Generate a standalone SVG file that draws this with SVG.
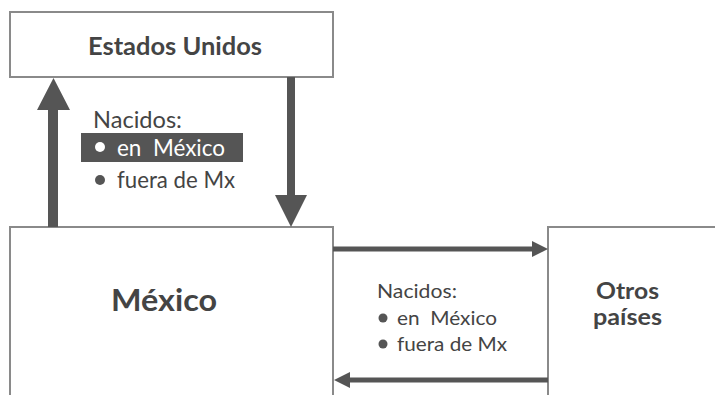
<svg xmlns="http://www.w3.org/2000/svg" width="715" height="395" viewBox="0 0 715 395">
<style>
.box{fill:#fff;stroke:#8a8a8a;stroke-width:2}
.t{font-family:Lato,"Liberation Sans",sans-serif;fill:#444}
.b{font-weight:bold}
.w{fill:#fff}
.arr{fill:#555}
</style>
<rect width="715" height="395" fill="#fff"/>
<g id="estados-unidos">
<rect class="box" x="10" y="12" width="323" height="65"/>
<text class="t b" x="88" y="55" font-size="24" textLength="174" lengthAdjust="spacingAndGlyphs">Estados Unidos</text>
</g>
<g id="mexico">
<path class="box" d="M10,395 V227 H333 V395"/>
<text class="t b" x="111" y="311" font-size="31" textLength="106" lengthAdjust="spacingAndGlyphs">México</text>
</g>
<g id="otros-paises">
<path class="box" d="M548,395 V227 H716"/>
<text class="t b" x="596" y="299" font-size="23" textLength="63" lengthAdjust="spacingAndGlyphs">Otros</text>
<text class="t b" x="593" y="325" font-size="23" textLength="69" lengthAdjust="spacingAndGlyphs">países</text>
</g>
<g id="connectors">
<polygon class="arr" points="48,227 48,110 37,110 53.5,78 70,110 58,110 58,227"/>
<polygon class="arr" points="287,77 287,195 275,195 291,227 307,195 295,195 295,77"/>
<polygon class="arr" points="333,246.5 532,246.5 532,241 548,249 532,257 532,251.5 333,251.5"/>
<polygon class="arr" points="548,377.5 350,377.5 350,372 334,380 350,388 350,382.5 548,382.5"/>
</g>
<g id="label-us">
<text class="t" x="93" y="128" font-size="23" textLength="89" lengthAdjust="spacingAndGlyphs">Nacidos:</text>
<rect x="81" y="133" width="162" height="29" fill="#555"/>
<circle cx="100" cy="147" r="5" fill="#fff"/>
<text class="t w" x="117" y="156" font-size="23" textLength="108" lengthAdjust="spacingAndGlyphs">en&#160; México</text>
<circle cx="100" cy="180" r="5" fill="#555"/>
<text class="t" x="117" y="188" font-size="23" textLength="118" lengthAdjust="spacingAndGlyphs">fuera de Mx</text>
</g>
<g id="label-otros">
<text class="t" x="377" y="298" font-size="20" textLength="80" lengthAdjust="spacingAndGlyphs">Nacidos:</text>
<circle cx="383" cy="318" r="4.5" fill="#555"/>
<text class="t" x="397" y="325" font-size="20" textLength="100" lengthAdjust="spacingAndGlyphs">en&#160; México</text>
<circle cx="383" cy="344" r="4.5" fill="#555"/>
<text class="t" x="397" y="351" font-size="20" textLength="110" lengthAdjust="spacingAndGlyphs">fuera de Mx</text>
</g>
</svg>
